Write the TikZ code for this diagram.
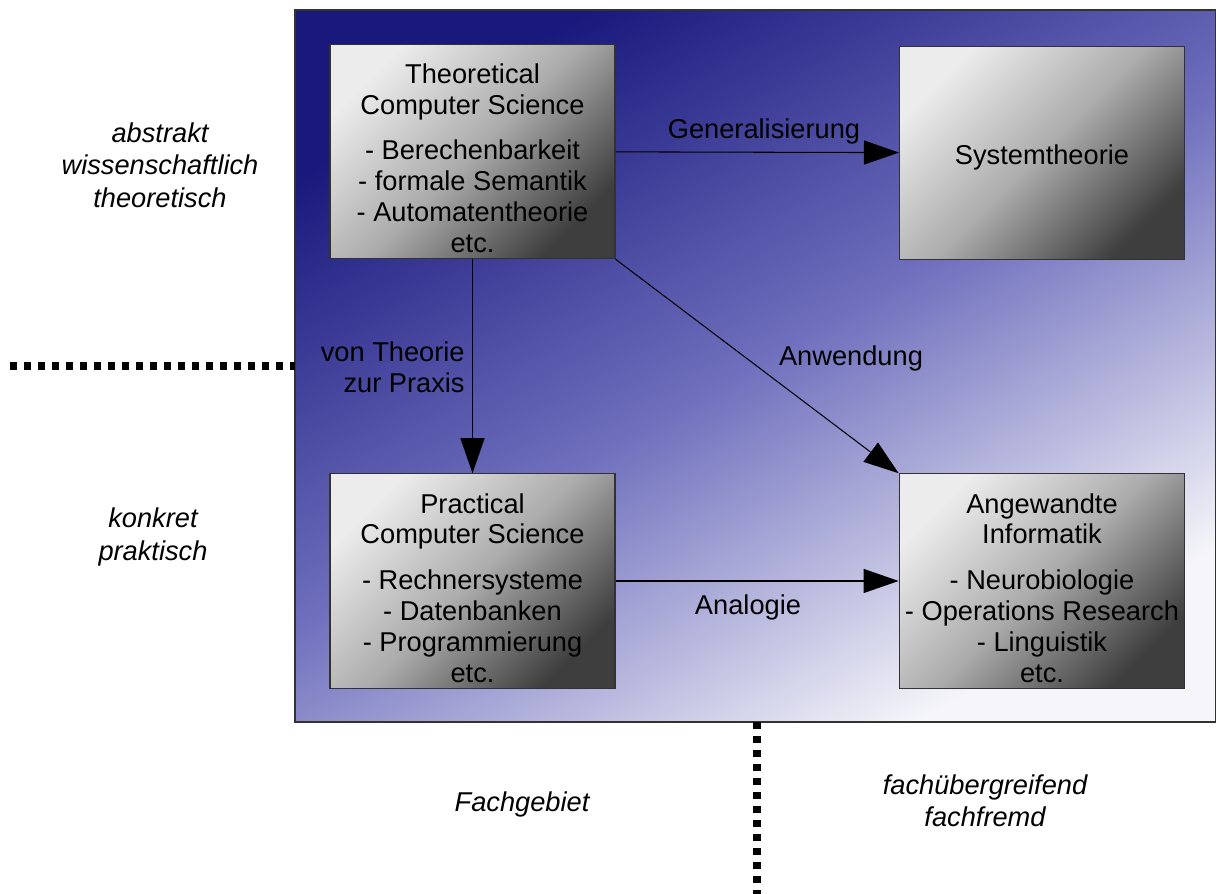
\documentclass[tikz,border=0pt]{standalone}
\usepackage{fontspec}
\setmainfont{Liberation Sans}
\usetikzlibrary{arrows.meta}

\definecolor{bgdark}{RGB}{25,25,125}
\definecolor{bgmid}{RGB}{112,112,190}
\definecolor{bglight}{RGB}{246,246,250}
\definecolor{boxlight}{RGB}{236,236,236}
\definecolor{boxmid}{RGB}{172,172,172}
\definecolor{boxdark}{RGB}{62,62,62}
\definecolor{rim}{RGB}{50,50,50}

\tikzset{
  fieldbox/.style={rectangle, draw=rim, line width=0.6pt,
    minimum width=5.7cm, minimum height=4.26cm,
    top color=boxlight, bottom color=boxdark, middle color=boxmid, shading angle=45,
    align=center, font=\fontsize{15.5}{17.6}\selectfont},
  linklabel/.style={align=center, font=\fontsize{15.5}{17.6}\selectfont},
  sidelabel/.style={align=center, font=\fontsize{15.5}{18.4}\selectfont\itshape},
  arrowline/.style={draw=black, line width=0.6pt, -{Triangle[length=0.7cm, width=0.48cm]}},
  borderdots/.style={line width=0.15cm, dash pattern=on 0.14cm off 0.14cm}
}

\begin{document}
\begin{tikzpicture}
        \useasboundingbox (0,0) rectangle (24.32,17.88);
        % Background
        \shade[draw=rim, line width=0.6pt, top color=bgdark, bottom color=bglight, middle color=bgmid, shading angle=30]
            (5.9,3.44) rectangle (24.32,17.68);
        \draw[borderdots] (0.2,10.56) -- (5.9,10.56);
        \draw[borderdots] (15.14,3.44) -- (15.14,0);

        % Nodes
        \node (n1) at (9.45,14.85) [fieldbox] {\rule{0pt}{19pt}Theoretical\\Computer Science\\[8.2pt]- Berechenbarkeit\\- formale Semantik\\- Automatentheorie\\etc.};
        \node (n2) at (20.84,14.82) [fieldbox] {\rule{0pt}{16pt}Systemtheorie};
        \node (n3) at (9.45,6.26) [fieldbox] {\rule{0pt}{19pt}Practical\\Computer Science\\[8.2pt]- Rechnersysteme\\- Datenbanken\\- Programmierung\\etc.};
        \node (n4) at (20.84,6.26) [fieldbox] {\rule{0pt}{19pt}Angewandte\\Informatik\\[8.2pt]- Neurobiologie\\- Operations Research\\- Linguistik\\etc.};

        % Labels
        \node (l1) at (15.28,15.26) [linklabel] {Generalisierung};
        \node (l2) at (9.3,10.54) [linklabel, anchor=east, align=right, inner sep=0pt] {von Theorie\\zur Praxis};
        \node (l3) at (17.02,10.72) [linklabel] {Anwendung};
        \node (l4) at (14.96,5.74) [linklabel] {Analogie};
        \node (s1) at (3.2,14.58) [sidelabel] {abstrakt\\wissenschaftlich\\theoretisch};
        \node (s2) at (3.06,7.14) [sidelabel] {konkret\\praktisch};
        \node (s3) at (10.44,1.8) [sidelabel] {Fachgebiet};
        \node (s4) at (19.7,1.86) [sidelabel] {fachübergreifend\\fachfremd};

        % Edges
        \foreach \a/\b in {n1/n2, n1/n3, n3/n4} {
            \draw[arrowline] (\a) -- (\b);
        }
        \draw[arrowline] (n1.south east) -- (n4.north west);
\end{tikzpicture}
\end{document}
